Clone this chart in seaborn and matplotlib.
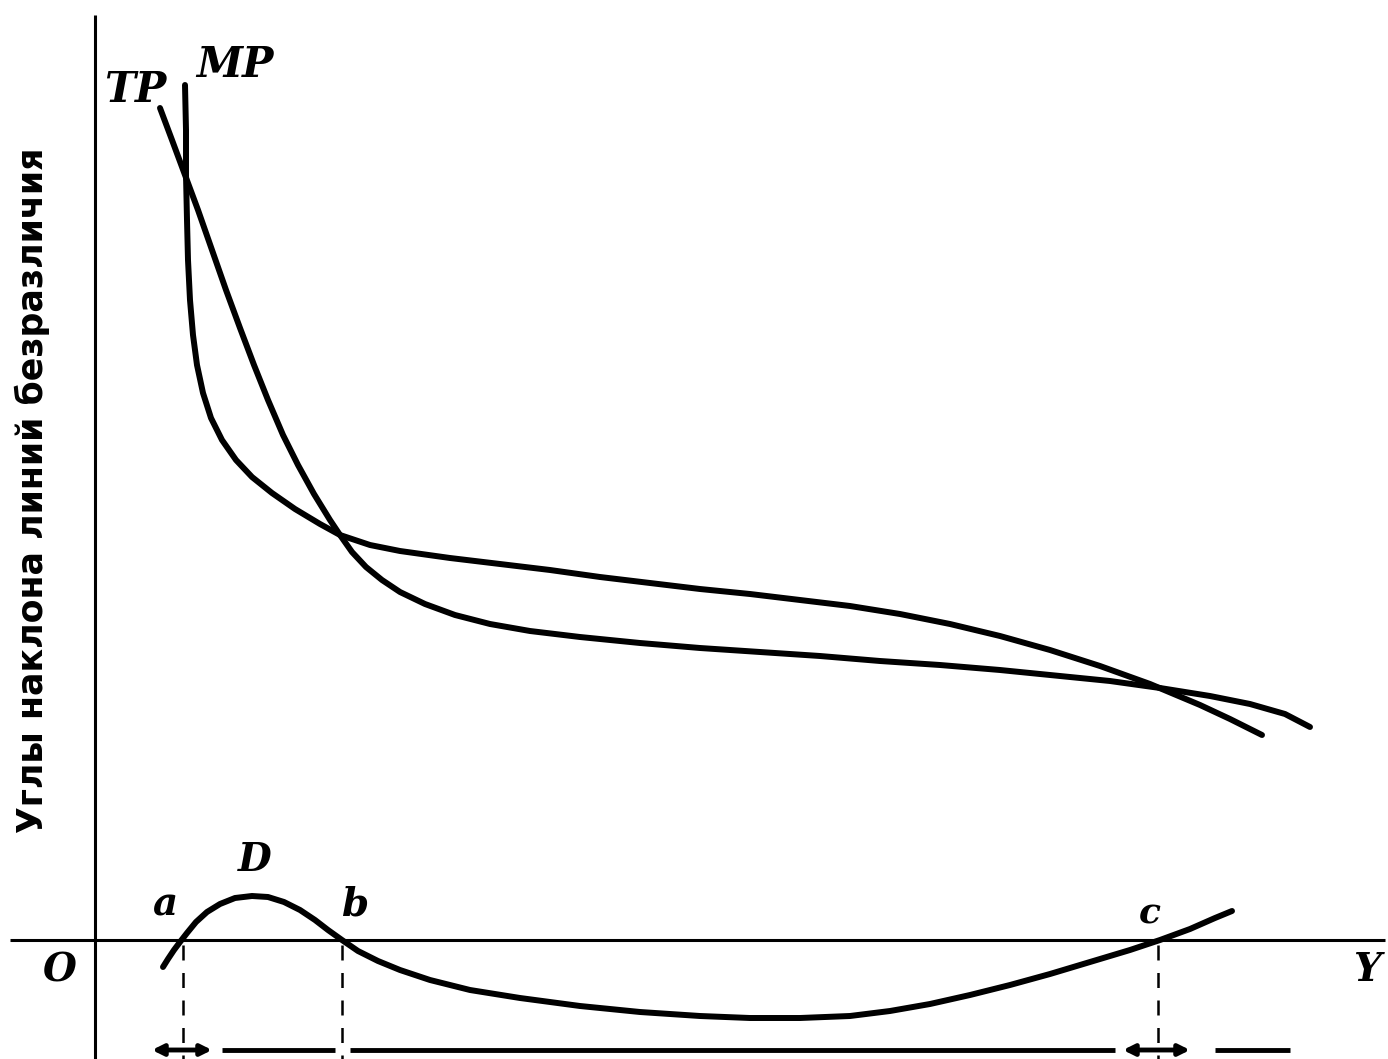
import matplotlib
matplotlib.use("Agg")
import matplotlib.pyplot as plt
import seaborn as sns
import pandas as pd

sns.set_theme(style="white")
plt.rcParams['font.family'] = ['DejaVu Sans']

# Data coordinates: origin O at the crossing of the axes (x to the right, y up)
mp_x = [90, 91, 91, 92, 93, 95, 98, 102, 108, 116, 127, 141, 157, 177, 200, 225, 245, 275, 305, 355,
        405, 455, 505, 555, 605, 655, 705, 755, 805, 855, 905, 955, 1005, 1055, 1105, 1135, 1167]
mp_y = [855, 810, 765, 720, 680, 640, 605, 575, 547, 522, 500, 480, 463, 447, 431, 416, 405, 395, 389, 382,
        376, 370, 363, 357, 351, 346, 340, 334, 326, 316, 304, 290, 274, 256, 235, 221, 205]

tp_x = [65, 77, 90, 103, 117, 131, 145, 159, 173, 188, 203, 219, 235, 245, 257, 271, 287, 305, 330, 360,
        395, 435, 485, 545, 605, 665, 725, 785, 845, 905, 965, 1015, 1065, 1115, 1155, 1190, 1215]
tp_y = [832, 800, 765, 730, 690, 650, 612, 575, 540, 505, 475, 446, 420, 405, 388, 373, 360, 348, 336, 325,
        316, 309, 303, 297, 292, 288, 284, 279, 275, 270, 264, 259, 252, 244, 236, 226, 213]

d_x = [68, 73, 79, 85, 92, 101, 112, 125, 140, 157, 173, 189, 205, 220, 233, 247, 263, 283, 305, 335,
       375, 425, 485, 545, 605, 655, 705, 755, 795, 835, 875, 915, 955, 995, 1035, 1065, 1095, 1120, 1137]
d_y = [-27, -19, -10, -2, 7, 18, 28, 36, 42, 44, 43, 38, 30, 20, 10, 0, -11, -21, -30, -40,
       -50, -58, -66, -72, -76, -78, -78, -76, -71, -64, -55, -45, -34, -22, -10, 0, 11, 22, 29]

roots_x = [88, 247, 1063]           # points a, b, c
pt_labels = ["a", "b", "c"]

ylabel = "Углы наклона линий безразличия"

fig = plt.figure(figsize=(13.88, 10.59), dpi=100)
ax = fig.add_axes([0, 0, 1, 1])
ax.set_xlim(-95, 1293)
ax.set_ylim(-119, 940)
ax.axis("off")

# axes of the diagram
ax.plot([0, 0], [-119, 925], color="black", lw=2.2, solid_capstyle="butt")
ax.plot([-85, 1290], [0, 0], color="black", lw=2.2, solid_capstyle="butt")

curves = pd.DataFrame({
    "x": mp_x + tp_x + d_x,
    "y": mp_y + tp_y + d_y,
    "curve": ["MP"] * len(mp_x) + ["TP"] * len(tp_x) + ["D"] * len(d_x),
})
sns.lineplot(data=curves, x="x", y="y", units="curve", estimator=None, sort=False,
             color="black", lw=4.3, ax=ax, legend=False,
             solid_capstyle="round", solid_joinstyle="round")

# dashed projections of a, b, c
for xr in roots_x:
    ax.plot([xr, xr], [-5, -119], color="black", lw=1.8, ls=(0, (6, 5)))

# bottom interval marks
yb = -110
arrow_kw = dict(arrowstyle="<|-|>", color="black", lw=3.5, mutation_scale=16, shrinkA=0, shrinkB=0)
for x0, x1 in [(57, 117), (1028, 1095)]:
    ax.annotate("", xy=(x1, yb), xytext=(x0, yb), arrowprops=arrow_kw)
for x0, x1 in [(127, 240), (255, 1020), (1120, 1195)]:
    ax.plot([x0, x1], [yb, yb], color="black", lw=3.5, solid_capstyle="butt")

serif = dict(family="DejaVu Serif", style="italic", weight="bold", color="black")
ax.text(40, 850, "TP", fontsize=30, ha="center", va="center", **serif)
ax.text(140, 875, "MP", fontsize=30, ha="center", va="center", **serif)
ax.text(160, 80, "D", fontsize=28, ha="center", va="center", **serif)
ax.text(-35, -30, "O", fontsize=28, ha="center", va="center", **serif)
ax.text(1272, -30, "Y", fontsize=28, ha="center", va="center", **serif)
ax.text(70, 35, pt_labels[0], fontsize=28, ha="center", va="center", **serif)
ax.text(260, 35, pt_labels[1], fontsize=28, ha="center", va="center", **serif)
ax.text(1055, 27, pt_labels[2], fontsize=26, ha="center", va="center", **serif)

ax.text(-63, 450, ylabel, rotation=90, fontsize=25, fontweight="bold",
        ha="center", va="center", color="black")

fig.savefig("out.png", dpi=100)
